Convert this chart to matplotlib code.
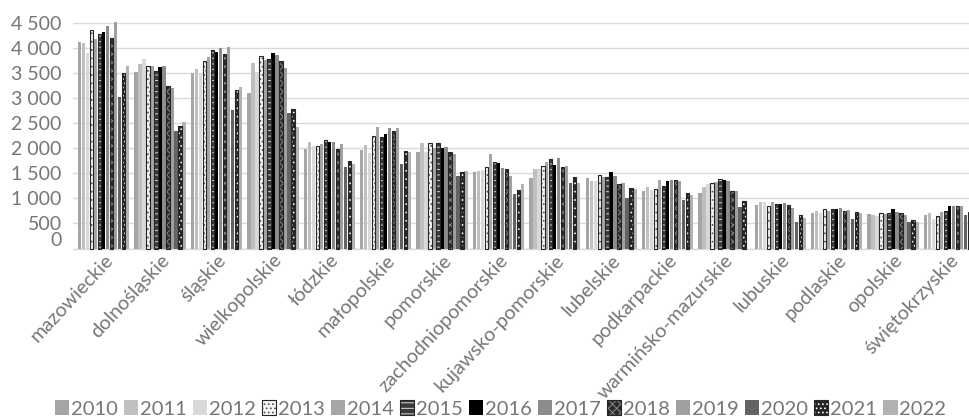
import numpy as np
import matplotlib
matplotlib.use("Agg")
import matplotlib.pyplot as plt
from matplotlib.patches import Patch
from matplotlib.legend_handler import HandlerTuple
from matplotlib.ticker import FuncFormatter, MultipleLocator

plt.rcParams['font.family'] = ['Lato', 'DejaVu Sans']
plt.rcParams['hatch.linewidth'] = 0.7

regions = ["mazowieckie", "dolnośląskie", "śląskie", "wielkopolskie", "łódzkie",
           "małopolskie", "pomorskie", "zachodniopomorskie", "kujawsko-pomorskie",
           "lubelskie", "podkarpackie", "warmińsko-mazurskie", "lubuskie",
           "podlaskie", "opolskie", "świętokrzyskie"]

years = ["2010", "2011", "2012", "2013", "2014", "2015", "2016",
         "2017", "2018", "2019", "2020", "2021", "2022"]

v2010 = [4130, 3530, 3500, 3110, 1980, 1960, 1930, 1520, 1410, 1400, 1140, 1110, 867, 713, 693, 660]
v2011 = [4110, 3690, 3590, 3710, 2130, 2070, 2110, 1550, 1580, 1350, 1230, 1230, 935, 753, 667, 707]
v2012 = [3900, 3790, 3510, 3530, 2050, 1900, 1930, 1560, 1580, 1350, 1160, 1280, 935, 713, 640, 595]
v2013 = [4360, 3650, 3750, 3850, 2040, 2250, 2110, 1620, 1640, 1460, 1190, 1300, 855, 793, 713, 653]
v2014 = [4180, 3650, 3830, 3760, 2090, 2420, 2000, 1890, 1720, 1430, 1370, 1330, 935, 740, 687, 720]
v2015 = [4280, 3550, 3970, 3780, 2160, 2220, 2110, 1720, 1790, 1430, 1250, 1395, 895, 787, 713, 753]
v2016 = [4320, 3620, 3920, 3900, 2130, 2290, 2000, 1710, 1670, 1520, 1340, 1365, 880, 787, 787, 847]
v2017 = [4450, 3640, 4010, 3860, 2130, 2400, 2020, 1610, 1800, 1450, 1360, 1340, 913, 813, 733, 840]
v2018 = [4200, 3250, 3880, 3740, 1990, 2340, 1920, 1590, 1620, 1280, 1360, 1145, 867, 740, 700, 840]
v2019 = [4520, 3200, 4030, 3610, 2090, 2400, 1890, 1450, 1650, 1300, 1340, 1145, 807, 760, 660, 840]
v2020 = [3030, 2340, 2770, 2710, 1630, 1690, 1450, 1080, 1300, 1010, 960, 825, 527, 580, 520, 673]
v2021 = [3510, 2440, 3170, 2790, 1750, 1950, 1520, 1160, 1420, 1200, 1110, 953, 660, 727, 560, 720]
v2022 = [3650, 2530, 3230, 2420, 1690, 1930, 1550, 1290, 1310, 1190, 1070, np.nan, 613, 700, 520, 700]

series = [v2010, v2011, v2012, v2013, v2014, v2015, v2016,
          v2017, v2018, v2019, v2020, v2021, v2022]

# (face colour, hatch, hatch colour, border colour)
styles = [
    ("#a5a5a5", None, None, None),
    ("#bfbfbf", None, None, None),
    ("#d9d9d9", None, None, None),
    ("#f4f4f4", "....", "#505050", "#262626"),
    ("#a6a6a6", None, None, None),
    ("#3a3a3a", "---", "#d8d8d8", "#262626"),
    ("#000000", None, None, None),
    ("#8c8c8c", None, None, None),
    ("#2a2a2a", "xxxx", "#8a8a8a", "#262626"),
    ("#a0a0a0", None, None, None),
    ("#636363", None, None, None),
    ("#262626", "....", "#ffffff", "#262626"),
    ("#b2b2b2", None, None, None),
]

text_color = "#767676"
grid_color = "#d9d9d9"

fig = plt.figure(figsize=(9.7, 4.2), dpi=100)
W, H = 970, 420
left_px, right_px = 72.7, 977.7
bottom_px, top_px = 248.5, 23.0
ax = fig.add_axes([left_px / W, 1 - bottom_px / H,
                   (right_px - left_px) / W, (bottom_px - top_px) / H])

x = np.arange(len(regions))
pitch = 0.0709
width = 0.06
n = len(series)

handles = []
for j, (vals, (fc, hatch, hc, ec)) in enumerate(zip(series, styles)):
    pos = x + (j - (n - 1) / 2) * pitch
    vals = np.asarray(vals, dtype=float)
    if hatch is None:
        ax.bar(pos, vals, width=width, color=fc, linewidth=0, clip_on=False, zorder=3)
        handles.append(Patch(facecolor=fc, edgecolor="none"))
    else:
        ax.bar(pos, vals, width=width, facecolor=fc, hatch=hatch, edgecolor=hc,
               linewidth=0, clip_on=False, zorder=3)
        ax.bar(pos, vals, width=width, facecolor="none", edgecolor=ec,
               linewidth=0.8, clip_on=False, zorder=4)
        handles.append((Patch(facecolor=fc, hatch=hatch, edgecolor=hc, linewidth=0),
                        Patch(facecolor="none", edgecolor=ec, linewidth=0.8)))

ax.set_xlim(-0.55, 15.5)
ax.set_ylim(0, 4500)
ax.yaxis.set_major_locator(MultipleLocator(500))
ax.yaxis.set_major_formatter(FuncFormatter(
    lambda v, p: "" if v == 0 else f"{v:,.0f}".replace(",", " ")))
ax.grid(axis="y", color=grid_color, linewidth=1.0, zorder=0)
ax.set_axisbelow(True)
for s in ["top", "right", "left"]:
    ax.spines[s].set_visible(False)
ax.spines["bottom"].set_color(grid_color)
ax.spines["bottom"].set_linewidth(1.0)
ax.tick_params(axis="both", length=0, colors=text_color, labelsize=14)
ax.tick_params(axis="y", pad=8)
ax.annotate("0", xy=(0, 0), xycoords=("axes fraction", "data"),
            xytext=(-8, 6), textcoords="offset points",
            ha="right", va="center", color=text_color, fontsize=14)

ax.set_xticks(x)
ax.set_xticklabels(regions, rotation=47, ha="right", rotation_mode="anchor",
                   color=text_color, fontsize=14.3)
ax.tick_params(axis="x", pad=2)

fig.legend(handles, years, loc="center", bbox_to_anchor=(0.516, 0.026),
           ncol=13, frameon=False, fontsize=14.5, labelcolor=text_color,
           handlelength=0.72, handleheight=0.72, handletextpad=0.08,
           columnspacing=0.3, borderaxespad=0, borderpad=0,
           handler_map={tuple: HandlerTuple(ndivide=1, pad=0)})

fig.savefig("out.png", dpi=100)
